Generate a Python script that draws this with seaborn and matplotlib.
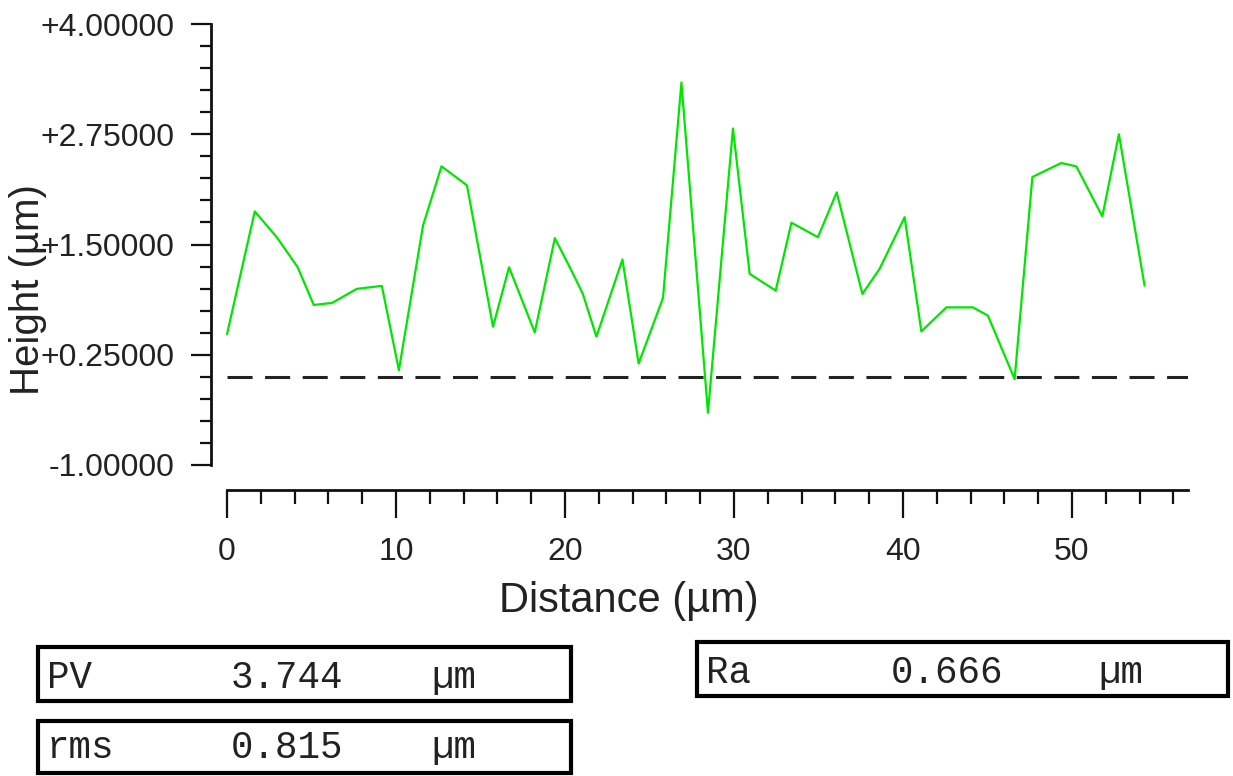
import matplotlib
matplotlib.use("Agg")
import matplotlib.pyplot as plt
from matplotlib.patches import Rectangle
from matplotlib.ticker import FixedLocator, MultipleLocator, FuncFormatter
import pandas as pd
import seaborn as sns

# Surface profile along the scan line
distance_um = [0.00, 1.64, 2.94, 3.77, 4.18, 5.13, 6.21, 7.68, 9.16, 10.17,
               11.60, 12.69, 14.20, 15.74, 16.69, 18.21, 19.40, 20.38, 21.05, 21.86,
               23.40, 24.36, 25.80, 26.89, 28.46, 29.94, 30.93, 32.47, 33.40, 34.97,
               36.08, 37.60, 38.62, 40.10, 41.09, 42.57, 44.14, 45.03, 46.61, 47.66,
               49.37, 50.26, 51.80, 52.78, 54.30]
height_um = [0.485, 1.875, 1.583, 1.356, 1.242, 0.815, 0.837, 0.997, 1.031, 0.076,
             1.716, 2.386, 2.170, 0.568, 1.242, 0.503, 1.572, 1.205, 0.943, 0.455,
             1.330, 0.151, 0.894, 3.336, -0.408, 2.815, 1.167, 0.977, 1.747, 1.583,
             2.091, 0.940, 1.224, 1.810, 0.515, 0.787, 0.787, 0.693, -0.026, 2.265,
             2.424, 2.386, 1.818, 2.750, 1.034]
reference_level = 0.0

y_ticks = [-1.0, 0.25, 1.5, 2.75, 4.0]
x_ticks = [0, 10, 20, 30, 40, 50]

stat_names = ["PV", "rms", "Ra"]
stat_values = ["3.744", "0.815", "0.666"]
stat_unit = "\u00b5m"

sns.set_theme(style="white")
plt.rcParams["font.family"] = ["Liberation Sans", "DejaVu Sans"]

W, H = 1233, 776
fig = plt.figure(figsize=(W / 100, H / 100), dpi=100)
fig.patch.set_facecolor("white")


def px_rect(left, top, right, bottom):
    return [left / W, 1 - bottom / H, (right - left) / W, (bottom - top) / H]


x_min, x_max = -0.95, 56.87
ax = fig.add_axes(px_rect(211, 24, 1188, 465))
ax.set_facecolor("white")

profile = pd.DataFrame({"distance": distance_um, "height": height_um})
sns.lineplot(data=profile, x="distance", y="height", ax=ax, color="#00e600",
             linewidth=1.6, sort=False, estimator=None)
ax.plot([0, x_max], [reference_level, reference_level], color="#222222",
        linewidth=2.2, linestyle=(0, (8.2, 4.1)), solid_capstyle="butt",
        dash_capstyle="butt")

ax.set_xlim(x_min, x_max)
ax.set_ylim(-1.0, 4.0)
ax.set_xlabel("")
ax.set_ylabel("")
ax.grid(False)

for side in ("top", "right"):
    ax.spines[side].set_visible(False)
ax.spines["left"].set_linewidth(2.0)
ax.spines["left"].set_color("#111111")
ax.spines["bottom"].set_linewidth(2.0)
ax.spines["bottom"].set_color("#111111")
ax.spines["bottom"].set_position(("outward", 18))
ax.spines["bottom"].set_bounds(0, x_max)

ax.yaxis.set_major_locator(FixedLocator(y_ticks))
ax.yaxis.set_minor_locator(MultipleLocator(0.25))
ax.yaxis.set_major_formatter(FuncFormatter(lambda v, p: f"{v:+.5f}"))
ax.xaxis.set_major_locator(FixedLocator(x_ticks))
ax.xaxis.set_minor_locator(MultipleLocator(2))

ax.tick_params(axis="y", which="major", direction="out", length=14.5, width=1.6,
               color="#111111", labelsize=23, pad=12, labelcolor="#222222",
               left=True)
ax.tick_params(axis="y", which="minor", direction="out", length=8, width=1.6,
               color="#111111", left=True)
ax.tick_params(axis="x", which="major", direction="out", length=20, width=1.6,
               color="#111111", labelsize=23, pad=14, labelcolor="#222222",
               bottom=True)
ax.tick_params(axis="x", which="minor", direction="out", length=10, width=1.6,
               color="#111111", bottom=True)

# Axis titles
fig.text(629 / W, 1 - 612 / H, "Distance (\u00b5m)", ha="center", va="baseline",
         fontsize=30, color="#222222")
fig.text(28 / W, 1 - 290 / H, "Height (\u00b5m)", ha="center", va="center",
         rotation=90, fontsize=29, color="#222222")

# Statistics panels
boxes = [
    (37.5, 647, 570.5, 701, 47, 688, 231, 431),
    (37.5, 721, 570.5, 773, 47, 758, 231, 431),
    (697, 642, 1228, 696, 706, 683, 891, 1098),
]
mono = ["Liberation Mono", "DejaVu Sans Mono"]
for name, value, (l, t, r, b, nx, by, vx, ux) in zip(stat_names, stat_values, boxes):
    fig.patches.append(Rectangle((l / W, 1 - b / H), (r - l) / W, (b - t) / H,
                                 transform=fig.transFigure, fill=False,
                                 edgecolor="black", linewidth=3.0))
    for tx, s in ((nx, name), (vx, value), (ux, stat_unit)):
        fig.text(tx / W, 1 - by / H, s, ha="left", va="baseline",
                 fontsize=27, family=mono, color="#222222")

fig.savefig("out.png", dpi=100, facecolor="white")
